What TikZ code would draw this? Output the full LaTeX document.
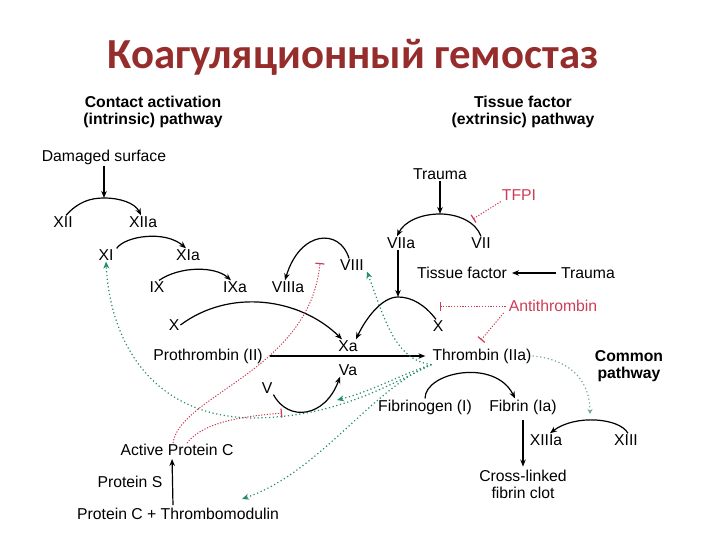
\documentclass[tikz,border=0pt]{standalone}
\usepackage{fontspec}
\setmainfont{Liberation Sans}
\newfontfamily\titlefont{Carlito}
\usetikzlibrary{arrows.meta}
\definecolor{titlered}{RGB}{150,45,45}
\definecolor{inhred}{RGB}{205,60,85}
\definecolor{actgreen}{RGB}{35,140,105}
\definecolor{fadegreen}{RGB}{120,165,155}
\begin{document}
\begin{tikzpicture}[x=1bp,y=-1bp,
  lbl/.style={inner sep=1bp, font=\fontsize{15.8}{17}\selectfont},
  head/.style={inner sep=1bp, font=\fontsize{15.8}{17}\selectfont\bfseries, align=center},
  inh/.style={lbl, text=inhred},
  arr/.style={line width=1.2bp, -{Stealth[length=7bp,width=5.5bp]}},
  block/.style={inhred, line width=1bp, dash pattern=on 1.2bp off 1.6bp, -{Bar[width=9bp,line width=1.2bp]}},
  feed/.style={actgreen, line width=1.2bp, dash pattern=on 1.2bp off 2.6bp, -{Stealth[length=7bp,width=6bp]}}]
\useasboundingbox (0,0) rectangle (720,540);
%title
\node[font=\titlefont\fontsize{43}{46}\selectfont\bfseries, text=titlered] (title) at (353,57) {Коагуляционный гемостаз};
%pathway headings
\node[head] (intr) at (153,112) {Contact activation\\(intrinsic) pathway};
\node[head] (extr) at (523,112) {Tissue factor\\(extrinsic) pathway};
\node[head] (comm) at (629,366) {Common\\pathway};
%intrinsic factors
\node[lbl] (dmg) at (104,157) {Damaged surface};
\node[lbl] (xii) at (63,222) {XII};
\node[lbl] (xiia) at (143,222) {XIIa};
\node[lbl] (xi) at (106,255) {XI};
\node[lbl] (xia) at (188,255) {XIa};
\node[lbl] (ix) at (157,287) {IX};
\node[lbl] (ixa) at (235,287) {IXa};
\node[lbl] (viiia) at (288,287) {VIIIa};
\node[lbl] (viii) at (352,265) {VIII};
\node[lbl] (xl) at (174,325) {X};
\node[lbl] (xa) at (348,346) {Xa};
\node[lbl] (pro) at (208,356) {Prothrombin (II)};
\node[lbl] (va) at (348,370) {Va};
\node[lbl] (v) at (267,388) {V};
%extrinsic factors
\node[lbl] (trA) at (440,174) {Trauma};
\node[lbl] (viia) at (401,243) {VIIa};
\node[lbl] (vii) at (481,243) {VII};
\node[lbl] (tf) at (462,273) {Tissue factor};
\node[lbl] (trB) at (588,273) {Trauma};
\node[lbl] (xr) at (438,326) {X};
\node[inh] (tfpi) at (519,195) {TFPI};
\node[inh] (at) at (553,306) {Antithrombin};
%common pathway
\node[lbl] (thr) at (482,356) {Thrombin (IIa)};
\node[lbl] (fbg) at (425,407) {Fibrinogen (I)};
\node[lbl] (fib) at (523,407) {Fibrin (Ia)};
\node[lbl] (xiiia) at (546,440) {XIIIa};
\node[lbl] (xiii) at (626,440) {XIII};
\node[lbl, align=center] (clot) at (523,484) {Cross-linked\\fibrin clot};
%protein C
\node[lbl] (apc) at (177,450) {Active Protein C};
\node[lbl] (ps) at (130,482) {Protein S};
\node[lbl] (pctm) at (178,514) {Protein C + Thrombomodulin};
%arc tops and free ends
\coordinate (t12) at (104,198);
\coordinate (t7) at (440,214);
\coordinate (tx) at (398,297);
\coordinate (tfpiend) at (473,219);
\coordinate (atend) at (440,306);
\coordinate (atthr) at (481,340);
\coordinate (viiiblk) at (320,263);
\coordinate (vblk) at (282,413);
\coordinate (vfeed) at (337,400);
\coordinate (pcfeed) at (242,499);
\coordinate (xfeed) at (590,414);
\coordinate (lowbend) at (250,418);
%black arrows
\draw[arr] (dmg) -- (t12);
\draw[arr] ([xshift=3]xii.north) .. controls (78,202) and (90,198) .. (t12) .. controls (120,198) and (135,203) .. ([xshift=-2]xiia.north);
\draw[arr] ([xshift=2]xi.north east) .. controls (125,236) and (165,230) .. ([xshift=-2]xia.north);
\draw[arr] ([xshift=2]ix.north) .. controls (180,266) and (215,266) .. ([xshift=-4]ixa.north);
\draw[arr] ([xshift=-3]viii.north) .. controls (340,228) and (300,230) .. ([xshift=-3]viiia.north);
\draw[arr] (xl.east) .. controls (230,288) and (300,298) .. ([xshift=-6]xa.north);
\draw[arr] (trA) -- (t7);
\draw[arr] (vii.north) .. controls (476,222) and (458,214) .. (t7) .. controls (420,214) and (404,222) .. ([xshift=-4]viia.north);
\draw[arr] (viia.south -| tx) -- (tx);
\draw[arr] ([xshift=-2]xr.north) .. controls (425,305) and (412,297) .. (tx) .. controls (382,297) and (366,318) .. ([xshift=8]xa.north);
\draw[arr, shorten <=4bp, shorten >=4bp] (trB) -- (tf);
\draw[arr, shorten <=6bp, shorten >=6bp] (pro) -- (thr);
\draw[arr] (v.south east) .. controls (288,422) and (325,418) .. ([xshift=-8]va.south);
\draw[arr] (fbg.north) .. controls (425,372) and (495,358) .. ([xshift=-8]fib.north);
\draw[arr, shorten <=4bp, shorten >=2bp] (fib.south) -- (clot.north);
\draw[arr] ([xshift=2]xiii.north) .. controls (620,418) and (575,414) .. ([xshift=4]xiiia.north);
\draw[arr, shorten <=2bp, shorten >=2bp] ([xshift=-5]pctm.north) -- ([xshift=-5]apc.south);
%red inhibition
\draw[block] (tfpi.south west) -- (tfpiend);
\draw[block, shorten <=2bp] (at.west) -- (atend);
\draw[block] ([xshift=-4]at.south west) -- (atthr);
\draw[block] ([xshift=-4]apc.north) .. controls (180,395) and (310,370) .. (viiiblk);
\draw[block] ([xshift=10]apc.north) .. controls (205,420) and (250,416) .. (vblk);
%green feedback from thrombin
\draw[feed] (thr.south west) .. controls (395,360) and (385,320) .. ([xshift=2]viii.south east);
\draw[feed] (thr.south west) .. controls (400,375) and (370,392) .. (vfeed);
\draw[feed] (thr.south west) .. controls (380,390) and (330,418) .. (lowbend) .. controls (150,415) and (110,340) .. (xi.south);
\draw[feed] (thr.south west) .. controls (370,390) and (320,472) .. (pcfeed);
\draw[feed, fadegreen, -{Stealth[length=5bp,width=5bp]}] (thr.east) .. controls (575,360) and (590,385) .. (xfeed);
\end{tikzpicture}
\end{document}
